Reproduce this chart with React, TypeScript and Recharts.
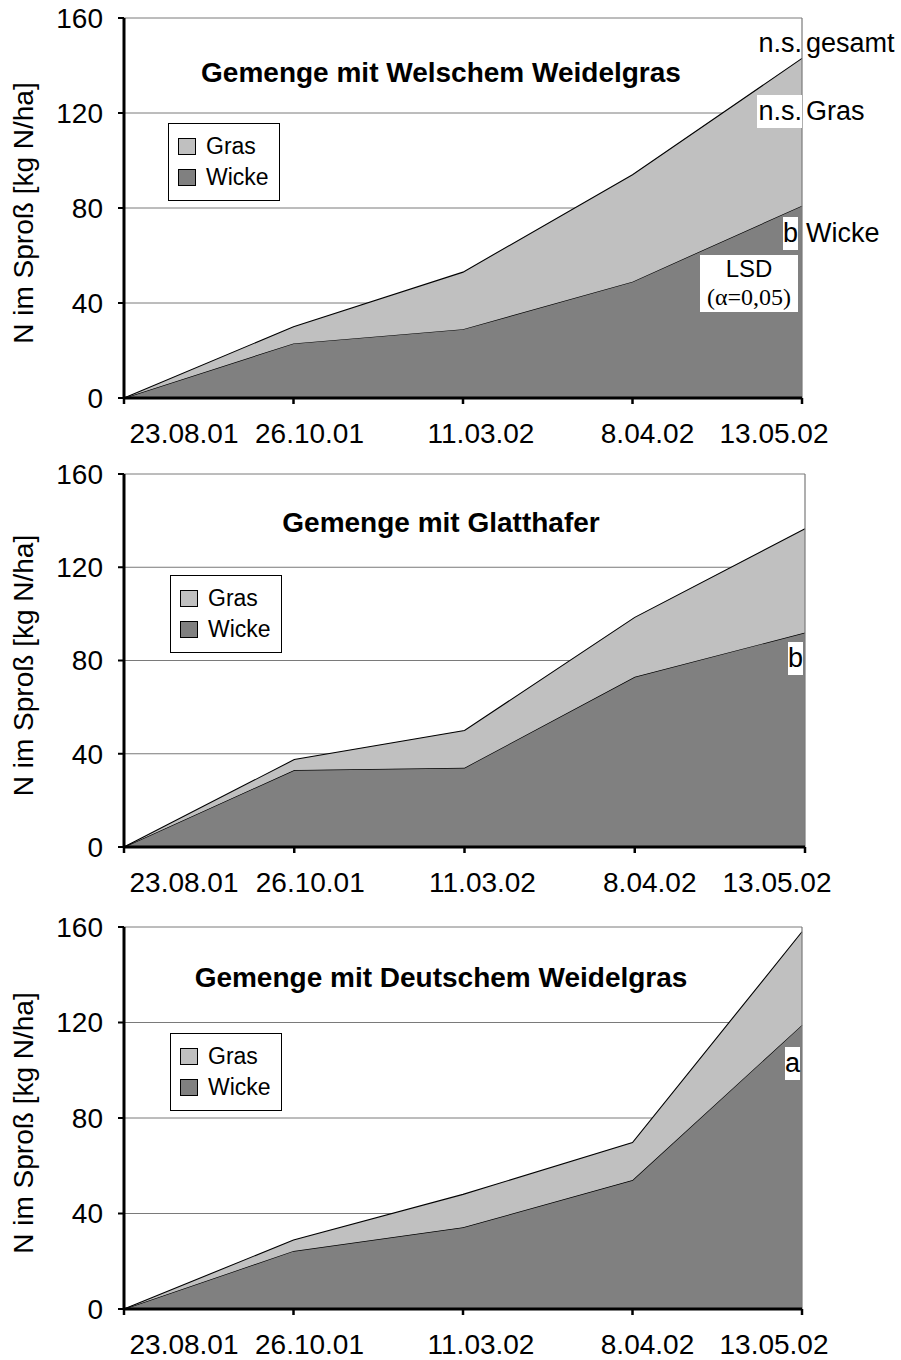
import React from 'react';
import { AreaChart, Area, XAxis, YAxis, CartesianGrid, Legend, ReferenceLine } from 'recharts';

const dates = ['23.08.01', '26.10.01', '11.03.02', '8.04.02', '13.05.02'];
const yTicks = [0, 40, 80, 120, 160];
const titles = ['Gemenge mit Welschem Weidelgras', 'Gemenge mit Glatthafer', 'Gemenge mit Deutschem Weidelgras'];
const wickeWelsch = [0, 23, 29, 49, 81];
const grasWelsch = [0, 7, 24, 45, 62];
const wickeGlatt = [0, 33, 34, 73, 92];
const grasGlatt = [0, 4.5, 16, 25.5, 44.5];
const wickeDeutsch = [0, 24.3, 34.2, 54, 119];
const grasDeutsch = [0, 4.6, 13.8, 15.7, 39];
const yLabel = 'N im Sproß [kg N/ha]';
const letterMarks = ['b', 'b', 'a'];
const legendOrder = ['Gras', 'Wicke'];

const COLORS: Record<string, string> = { Wicke: '#808080', Gras: '#c0c0c0' };
const FONT = '"Liberation Sans", Arial, sans-serif';
const SERIF = '"Liberation Serif", "Times New Roman", serif';
const tickDx = [60, 16, 18, 15, -28];

const build = (w: number[], g: number[]) => dates.map((d, i) => ({ date: d, Wicke: w[i], Gras: g[i] }));
const datasets = [build(wickeWelsch, grasWelsch), build(wickeGlatt, grasGlatt), build(wickeDeutsch, grasDeutsch)];

const panels = [
  { top: 0, height: 455, mTop: 18, mRight: 99, mBottom: 7, legend: { left: 168, top: 123 }, titleY: 73, letter: { right: 103, top: 217 } },
  { top: 455, height: 455, mTop: 19, mRight: 96, mBottom: 13, legend: { left: 170, top: 120 }, titleY: 68, letter: { right: 98, top: 187 } },
  { top: 910, height: 450, mTop: 17, mRight: 99, mBottom: 1, legend: { left: 170, top: 123 }, titleY: 68, letter: { right: 101, top: 137 } },
];

const XTick = (props: any) => {
  const { x, y, payload } = props;
  const idx = payload?.index ?? props.index ?? 0;
  return (
    <text x={x + tickDx[idx]} y={y} dy="0.71em" textAnchor="middle" fontSize={28} fill="#000" fontFamily={FONT}>
      {payload.value}
    </text>
  );
};

const LegendBox = (props: any) => {
  const payload = props.payload || [];
  const items = legendOrder.map((name) => payload.find((it: any) => it.value === name) || { value: name });
  return (
    <div style={{ border: '1.5px solid #000', background: '#fff', padding: '7px 10px 7px 9px', fontFamily: FONT }}>
      {items.map((it: any) => (
        <div key={it.value} style={{ display: 'flex', alignItems: 'center', height: 31, fontSize: 23, lineHeight: '31px' }}>
          <span style={{ display: 'inline-block', width: 16, height: 15, background: COLORS[it.value], border: '1px solid #000', marginRight: 10 }} />
          <span>{it.value}</span>
        </div>
      ))}
    </div>
  );
};

const YLabel = (props: any) => {
  const vb = props.viewBox || {};
  const cx = 23;
  const cy = vb.y + vb.height / 2 + 5;
  return (
    <text x={cx} y={cy} transform={`rotate(-90, ${cx}, ${cy})`} textAnchor="middle" dominantBaseline="central" fontSize={28} fill="#000" fontFamily={FONT}>
      {yLabel}
    </text>
  );
};

const abs = (s: React.CSSProperties): React.CSSProperties => ({ position: 'absolute', whiteSpace: 'nowrap', fontFamily: FONT, color: '#000', ...s });

const Panel = ({ idx }: { idx: number }) => {
  const p = panels[idx];
  return (
    <div style={{ position: 'absolute', left: 0, top: p.top, width: 901, height: p.height }}>
      <AreaChart width={901} height={p.height} data={datasets[idx]} margin={{ top: p.mTop, right: p.mRight, left: 0, bottom: p.mBottom }}>
        <CartesianGrid vertical={false} stroke="#7a7a7a" strokeWidth={1} />
        <Area type="linear" dataKey="Wicke" stackId="1" stroke="#000" strokeWidth={1.3} fill={COLORS.Wicke} fillOpacity={1} isAnimationActive={false} />
        <Area type="linear" dataKey="Gras" stackId="1" stroke="#000" strokeWidth={1.1} fill={COLORS.Gras} fillOpacity={1} isAnimationActive={false} />
        <ReferenceLine x={dates[dates.length - 1]} stroke="#7a7a7a" strokeWidth={1.2} />
        <XAxis dataKey="date" height={50} tick={<XTick />} tickSize={6} tickMargin={19} axisLine={{ stroke: '#000', strokeWidth: 3 }} tickLine={{ stroke: '#000', strokeWidth: 2.5 }} interval={0} />
        <YAxis domain={[0, 160]} ticks={yTicks} width={124} tickSize={6} tickMargin={15} axisLine={{ stroke: '#000', strokeWidth: 3 }} tickLine={{ stroke: '#000', strokeWidth: 2 }} tick={{ fontSize: 28, fill: '#000' }} label={<YLabel />} allowDataOverflow />
        <Legend layout="vertical" verticalAlign="middle" align="center" wrapperStyle={{ left: p.legend.left, top: p.legend.top, width: 'auto', height: 'auto' }} content={<LegendBox />} />
      </AreaChart>
      <div style={abs({ left: 0, width: 882, top: p.titleY - 17, textAlign: 'center', fontSize: 28, fontWeight: 'bold', lineHeight: '34px' })}>{titles[idx]}</div>
      <div style={abs({ right: p.letter.right, top: p.letter.top, fontSize: 27, lineHeight: '33px', background: '#fff' })}>{letterMarks[idx]}</div>
      {idx === 0 && (
        <>
          <div style={abs({ right: 99, top: 27, fontSize: 27, lineHeight: '33px' })}>n.s.</div>
          <div style={abs({ left: 806, top: 27, fontSize: 27, lineHeight: '33px' })}>gesamt</div>
          <div style={abs({ right: 99, top: 95, fontSize: 27, lineHeight: '33px', background: '#fff', paddingLeft: 1 })}>n.s.</div>
          <div style={abs({ left: 806, top: 95, fontSize: 27, lineHeight: '33px' })}>Gras</div>
          <div style={abs({ left: 806, top: 217, fontSize: 27, lineHeight: '33px' })}>Wicke</div>
          <div style={abs({ left: 700, top: 255, width: 98, height: 57, background: '#fff', textAlign: 'center' })}>
            <div style={{ fontSize: 24, lineHeight: '28px' }}>LSD</div>
            <div style={{ fontSize: 24, lineHeight: '28px', fontFamily: SERIF }}>(α=0,05)</div>
          </div>
        </>
      )}
    </div>
  );
};

export default function App() {
  return (
    <div style={{ position: 'absolute', left: 0, top: 0, width: 901, height: 1360, background: '#fff', fontFamily: FONT }}>
      <Panel idx={0} />
      <Panel idx={1} />
      <Panel idx={2} />
    </div>
  );
}
